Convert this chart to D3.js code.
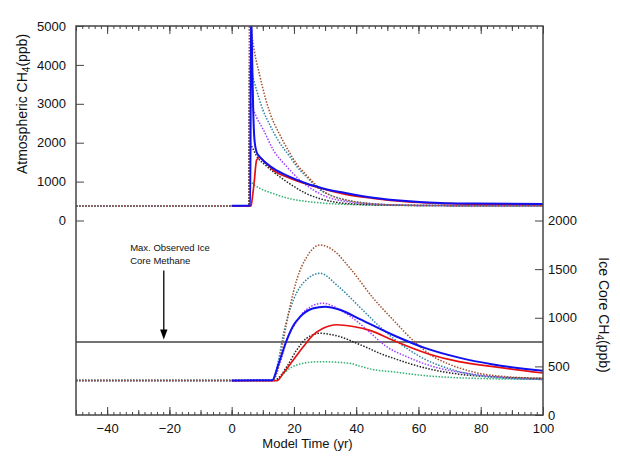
<!DOCTYPE html>
<html><head><meta charset="utf-8">
<script src="https://cdn.jsdelivr.net/npm/d3@7"></script>
<style>
html,body{margin:0;padding:0;background:#fff;}
text{font-family:"Liberation Sans",Arial,sans-serif;fill:#111;}
</style></head>
<body><svg id="c" width="620" height="462"></svg>
<script>
// ---------- data ----------
const xTicksMajor = [-40,-20,0,20,40,60,80,100];
const atmTicks = [0,1000,2000,3000,4000,5000];
const iceTicks = [0,500,1000,1500,2000];
const maxObservedIce = 750;
const annotationLines = ["Max. Observed Ice","Core Methane"];

// Atmospheric CH4 (ppb) — [year, ppb]
const atmGreen  = [[-50,375],[5.5,375],[5.7,1020],[6.6,960],[7.5,900],[9.1,825],[13.4,690],[18.7,560],[24,490],[30.5,440],[40,405],[55,387],[100,378]];
const atmBlack  = [[-50,375],[5.5,375],[5.7,2000],[6.6,1880],[8,1660],[11.2,1400],[15.5,1120],[20,875],[24,690],[28.4,560],[33,475],[40,420],[50,395],[70,382],[100,378]];
const atmPurple = [[-50,375],[5.5,375],[5.7,3050],[6.6,2920],[8,2650],[10.2,2330],[13.4,1810],[17.7,1385],[21.9,1040],[26.2,785],[30.5,610],[37,485],[45,425],[55,395],[70,382],[100,378]];
const atmTeal   = [[-50,375],[5.5,375],[5.7,3950],[6.6,3750],[8,3350],[10,2850],[12.3,2450],[15,2050],[18.7,1640],[21,1380],[24,1125],[28.4,790],[32,640],[35,560],[40,480],[45,435],[55,395],[70,382],[100,378]];
const atmBrown  = [[-50,375],[5.5,375],[5.7,5300],[6.6,4700],[9.1,3700],[12.5,2720],[15.5,2200],[18.7,1730],[21,1440],[24,1170],[27,920],[29.4,750],[32,640],[35,560],[38,505],[45,430],[52,400],[60,388],[80,380],[100,378]];
const atmRed    = [[0,374],[6.2,376],[6.4,450],[7.2,960],[8,1550],[8.9,1620],[10,1560],[13.4,1290],[18.7,1090],[24,940],[29.4,815],[37,665],[45.5,570],[56,485],[67,442],[78,420],[100,415]];
const atmBlue   = [[0,378],[6,380],[6.2,5500],[6.6,4100],[6.9,2900],[7.3,2100],[8,1760],[9.1,1630],[13.4,1340],[18.7,1120],[24,950],[29.4,825],[37,700],[45.5,585],[56,500],[67,450],[78,435],[100,422]];

// Ice core CH4 (ppb) — [year, ppb]
const iceGreen  = [[-50,355],[13.5,355],[15.5,394],[18.7,480],[21.9,524],[28.4,548],[38,531],[41,505],[45,470],[52,443],[62,405],[75,380],[100,366]];
const iceBlack  = [[-50,355],[13.5,355],[14.5,365],[17.7,497],[20.9,668],[24,788],[28.4,840],[34.8,805],[40.2,737],[44.4,680],[47.6,634],[52,583],[62.6,480],[73,420],[85,390],[100,377]];
const icePurple = [[-50,355],[13,355],[15.5,530],[17.7,771],[20.9,960],[24,1085],[29.4,1150],[34.8,1080],[40,970],[44,860],[49.8,702],[56.2,600],[64.8,497],[75.5,429],[100,367]];
const iceTeal   = [[-50,355],[13.3,355],[15,560],[16.6,830],[19.8,1180],[24,1390],[28.4,1457],[34,1330],[41,1114],[47.6,908],[54,737],[60.5,600],[71.2,463],[82,394],[100,365]];
const iceBrown  = [[-50,355],[13,355],[14.5,430],[16.6,770],[18.7,1110],[20.9,1390],[24.1,1625],[28.5,1748],[32.6,1695],[38,1510],[45.5,1200],[51.9,977],[58.5,760],[64.8,600],[70,520],[75,465],[80,425],[88,395],[100,377]];
const iceRed    = [[0,352],[14.5,352],[16.6,430],[19.8,566],[23,702],[26.2,823],[29.4,891],[33.7,928],[39,910],[44.4,870],[52,765],[63,630],[73,548],[84,497],[100,432]];
const iceBlue   = [[0,355],[13,357],[15,520],[17.7,771],[20,930],[22,1010],[26,1095],[30,1114],[34.8,1082],[41.2,985],[52,820],[62,690],[73,590],[84,520],[100,455]];

// ---------- layout ----------
const L=76, R=543, T=26, B=415;
const svg = d3.select("#c");
const x = d3.scaleLinear().domain([-50,100]).range([L,R]);
const yAtm = d3.scaleLinear().domain([-5000,5000]).range([B,T]);
const yIce = d3.scaleLinear().domain([0,4000]).range([B,T]);

svg.append("defs").append("clipPath").attr("id","clip")
  .append("rect").attr("x",L).attr("y",T).attr("width",R-L).attr("height",B-T);

const axisCol = "#444";
function styleAxis(g){
  g.select(".domain").remove();
  g.selectAll(".tick line").attr("stroke",axisCol).attr("stroke-width",1);
  g.selectAll(".tick text").style("font-size","13px").attr("fill","#111");
}
const minor = d3.range(-50,101,2), mid = d3.range(-50,101,10);
// bottom axis
svg.append("g").attr("transform",`translate(0,${B})`)
  .call(d3.axisBottom(x).tickValues(minor).tickSize(-3).tickFormat("")).call(styleAxis);
svg.append("g").attr("transform",`translate(0,${B})`)
  .call(d3.axisBottom(x).tickValues(mid).tickSize(-5).tickFormat("")).call(styleAxis);
svg.append("g").attr("transform",`translate(0,${B})`)
  .call(d3.axisBottom(x).tickValues(xTicksMajor).tickSize(-8).tickPadding(9).tickFormat(d3.format("d"))).call(styleAxis);
// top axis
svg.append("g").attr("transform",`translate(0,${T})`)
  .call(d3.axisTop(x).tickValues(minor).tickSize(-3).tickFormat("")).call(styleAxis);
svg.append("g").attr("transform",`translate(0,${T})`)
  .call(d3.axisTop(x).tickValues(mid).tickSize(-5).tickFormat("")).call(styleAxis);
svg.append("g").attr("transform",`translate(0,${T})`)
  .call(d3.axisTop(x).tickValues(xTicksMajor).tickSize(-8).tickFormat("")).call(styleAxis);
// left axis (atmospheric)
svg.append("g").attr("transform",`translate(${L},0)`)
  .call(d3.axisLeft(yAtm).tickValues(atmTicks).tickSize(-8).tickPadding(10).tickFormat(d3.format("d"))).call(styleAxis);
// right axis (ice core)
svg.append("g").attr("transform",`translate(${R},0)`)
  .call(d3.axisRight(yIce).tickValues(iceTicks).tickSize(-8).tickPadding(5).tickFormat(d3.format("d"))).call(styleAxis);

// ---------- lines ----------
const plot = svg.append("g").attr("clip-path","url(#clip)");
function draw(data, y, color, dotted, width){
  const line = d3.line().x(d=>x(d[0])).y(d=>y(d[1])).curve(d3.curveMonotoneX);
  plot.append("path").datum(data).attr("d",line).attr("fill","none")
    .attr("stroke",color).attr("stroke-width",width)
    .attr("stroke-dasharray",dotted?"1.5 1.5":null);
}
const cGreen="#30b070", cBlack="#222", cPurple="#a040ff", cTeal="#2f85a5", cBrown="#a0522d", cRed="#e61010", cBlue="#1010f0";

// max observed line
plot.append("line").attr("x1",L).attr("x2",R).attr("y1",yIce(maxObservedIce)).attr("y2",yIce(maxObservedIce))
  .attr("stroke","#444").attr("stroke-width",1.6);

[[atmGreen,cGreen],[atmBlack,cBlack],[atmPurple,cPurple],[atmTeal,cTeal],[atmBrown,cBrown]].forEach(s=>draw(s[0],yAtm,s[1],true,1.5));
[[iceGreen,cGreen],[iceBlack,cBlack],[icePurple,cPurple],[iceTeal,cTeal],[iceBrown,cBrown]].forEach(s=>draw(s[0],yIce,s[1],true,1.5));
draw(atmRed,yAtm,cRed,false,1.7);
draw(iceRed,yIce,cRed,false,1.7);
draw(atmBlue,yAtm,cBlue,false,2);
draw(iceBlue,yIce,cBlue,false,2);

// frame
svg.append("rect").attr("x",L).attr("y",T).attr("width",R-L).attr("height",B-T)
  .attr("fill","none").attr("stroke",axisCol).attr("stroke-width",1.5);

// ---------- annotation ----------
const ann = svg.append("text").attr("x",x(-32.6)).attr("y",251).style("font-size","9.5px");
annotationLines.forEach((s,i)=>ann.append("tspan").attr("x",x(-32.6)).attr("dy",i?13:0).text(s));
const ax = x(-21.8);
svg.append("line").attr("x1",ax).attr("x2",ax).attr("y1",270.5).attr("y2",331).attr("stroke","#000").attr("stroke-width",1.3);
svg.append("path").attr("d",`M${ax-3.7},329.5L${ax+3.7},329.5L${ax},339.5Z`).attr("fill","#000");

// ---------- titles ----------
svg.append("text").attr("x",(L+R)/2 - 2).attr("y",448).attr("text-anchor","middle").style("font-size","13px").text("Model Time (yr)");
const lt = svg.append("text").attr("transform","translate(26.5,104) rotate(-90)").attr("text-anchor","middle").style("font-size","14px");
lt.append("tspan").text("Atmospheric CH");
lt.append("tspan").attr("dy",3).style("font-size","10px").text("4");
lt.append("tspan").attr("dy",-3).text("(ppb)");
const rt = svg.append("text").attr("transform","translate(599,315) rotate(90)").attr("text-anchor","middle").style("font-size","14px");
rt.append("tspan").text("Ice Core CH");
rt.append("tspan").attr("dy",3).style("font-size","10px").text("4");
rt.append("tspan").attr("dy",-3).text("(ppb)");
</script></body></html>
